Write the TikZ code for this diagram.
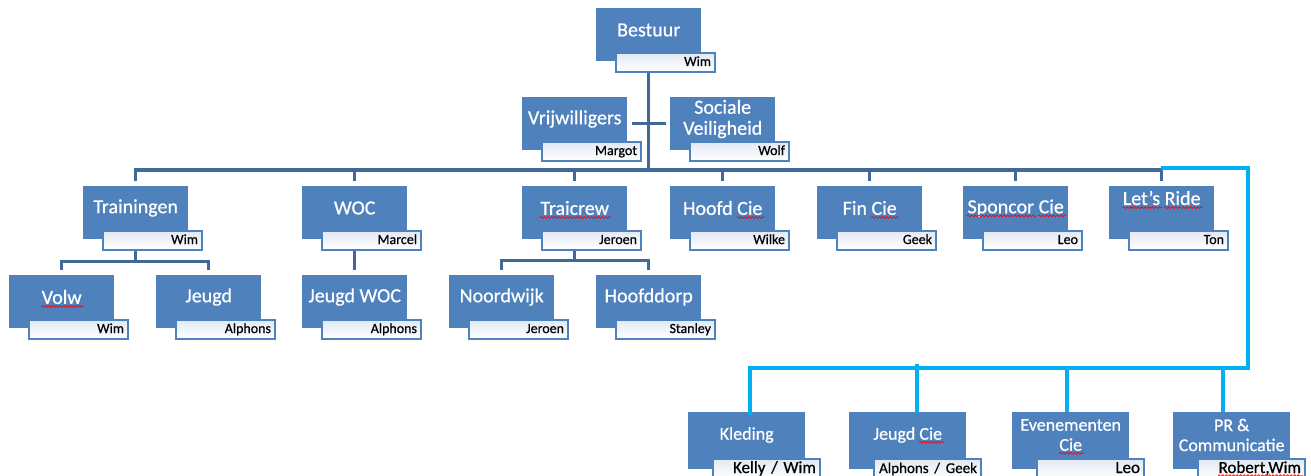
\documentclass[tikz,border=0pt]{standalone}
\usepackage{fontspec}
\setmainfont{Carlito}
\newfontfamily\boxfont{Carlito}[FakeBold=0.6]
\usetikzlibrary{calc,decorations.pathmorphing}
\definecolor{boxblue}{RGB}{79,129,189}
\definecolor{linedark}{RGB}{64,104,153}
\definecolor{cyanline}{RGB}{0,176,240}
\definecolor{subtop}{RGB}{226,233,243}
\newcommand\sqw[1]{\tikz[baseline=(sqwtxt.base),x=1pt,y=1pt]{\node[inner sep=0pt,outer sep=0pt,anchor=base] (sqwtxt) {#1};\draw[overlay,red,line width=0.7pt,decorate,decoration={snake,amplitude=0.9pt,segment length=3.6pt}] ($(sqwtxt.base west)+(-0.5pt,-2.6pt)$) -- ($(sqwtxt.base east)+(2pt,-2.6pt)$);}}
\tikzset{
  bx/.style={fill=boxblue, draw=none, minimum width=105, minimum height=53, inner sep=0, anchor=north west},
  bxb/.style={bx, minimum width=117, minimum height=57},
  mt/.style={text=white, inner sep=0, align=center, font=\boxfont\fontsize{20}{21}\selectfont},
  mtb/.style={mt, font=\boxfont\fontsize{18}{20}\selectfont},
  sb/.style={draw=boxblue, line width=2, top color=subtop, bottom color=white, anchor=north west,
    text width=91, inner xsep=4, inner ysep=0, minimum height=19, align=right,
    text height=10, text depth=3, font=\boxfont\fontsize{14}{16}\selectfont},
  sbb/.style={sb, text width=99, minimum height=20, text height=12, text depth=4, font=\boxfont\fontsize{17}{19}\selectfont},
  conn/.style={draw=linedark, line width=3.5},
  cy/.style={draw=cyanline, line width=4.5},
}
\newcommand\obox[6]{%
  \node[bx] (#1) at (#2,#3) {};
  \node[mt] (#1-t) at ($(#1.north)+(0,#6)$) {#4};
  \node[sb] (#1-s) at ($(#1.north west)+(19,44)$) {#5};
}
\newcommand\oboxb[6]{%
  \node[bxb] (#1) at (#2,#3) {};
  \node[mtb] (#1-t) at ($(#1.north)+(0,#6)$) {#4};
  \node[sbb] (#1-s) at ($(#1.north west)+(24,46)$) {#5};
}
\begin{document}
\begin{tikzpicture}[x=1pt,y=-1pt]
\useasboundingbox (0,0) rectangle (1311,476);
\clip (0,0) rectangle (1311,476);
\fill[white] (0,0) rectangle (1311,476);

% boxes
\obox{best}{596}{8}{Bestuur}{Wim}{22}
\obox{vrij}{522}{97}{Vrijwilligers}{Margot}{22}
\obox{soc}{670}{97}{Sociale\\Veiligheid}{Wolf}{22}
\obox{trn}{83}{186}{Trainingen}{Wim}{22}
\obox{woc}{302}{186}{WOC}{Marcel}{22}
\obox{trc}{522}{186}{\sqw{Traicrew}}{Jeroen}{22}
\obox{hfd}{670}{186}{Hoofd \sqw{Cie}}{Wilke}{22}
\obox{fin}{817}{186}{Fin \sqw{Cie}}{Geek}{22}
\obox{spc}{963}{186}{\sqw{Sponcor} \sqw{Cie}}{Leo}{22}
\obox{lr}{1109}{186}{\sqw{Let’s} \sqw{Ride}}{Ton}{12}
\obox{volw}{9}{275}{\sqw{Volw}}{Wim}{22}
\obox{jgd}{156}{275}{Jeugd}{Alphons}{22}
\obox{jwoc}{302}{275}{Jeugd WOC}{Alphons}{22}
\obox{nw}{449}{275}{Noordwijk}{Jeroen}{22}
\obox{hd}{596}{275}{Hoofddorp}{Stanley}{22}
\oboxb{kl}{688}{412}{Kleding}{Kelly / Wim}{23}
\oboxb{jc}{849}{412}{Jeugd \sqw{Cie}}{\fontsize{15}{17}\selectfont Alphons / Geek}{23}
\oboxb{ev}{1012}{412}{Evenementen\\\sqw{Cie}}{Leo}{23}
\oboxb{pr}{1173}{412}{PR \&\\Communicatie}{\sqw{Robert,Wim}}{23}

% connectors top
\coordinate (bus) at ($(trn.north)+(0,-16)$);
\draw[conn] (best.south |- best-s.south) -- (best.south |- bus);
\draw[conn] ($(vrij.east)+(5,0)$) -- ($(soc.west)+(-4,0)$);
\draw[conn] ($(trn.north)+(0,-5)$) -- (trn.north |- bus) -- (lr.north |- bus) -- ($(lr.north)+(0,-5)$);
\foreach \n in {woc,trc,hfd,fin,spc}{
  \draw[conn] (\n.north |- bus) -- ($(\n.north)+(0,-5)$);
}
% level 3
\coordinate (t3) at ($(trn.south)+(0,22)$);
\draw[conn] (trn.south |- trn-s.south) -- (t3);
\draw[conn] ($(volw.north)+(0,-5)$) -- (volw.north |- t3) -- (jgd.north |- t3) -- ($(jgd.north)+(0,-5)$);
\draw[conn] (woc.south |- woc-s.south) -- ($(jwoc.north)+(0,-5)$);
\coordinate (c3) at ($(trc.south)+(0,21)$);
\draw[conn] (trc.south |- trc-s.south) -- (c3);
\draw[conn] ($(nw.north)+(0,-5)$) -- (nw.north |- c3) -- (hd.north |- c3) -- ($(hd.north)+(0,-5)$);

% cyan connectors
\coordinate (cyStart) at ($(lr.north |- bus)+(-1,-2)$);
\coordinate (cyTop) at (1248,168);
\coordinate (cyBus) at (1248,368);
\coordinate (klc) at ($(kl.north west)+(62,3)$);
\coordinate (jcc) at ($(jc.north west)+(68,1)$);
\coordinate (evc) at ($(ev.north west)+(55,0)$);
\coordinate (prc) at ($(pr.north west)+(50,0)$);
\draw[cy] (cyStart) -- (cyTop) -- (cyBus) -- (klc |- cyBus) -- (klc);
\draw[cy] ($(jcc |- cyBus)+(0,-4)$) -- (jcc);
\draw[cy] (evc |- cyBus) -- (evc);
\draw[cy] (prc |- cyBus) -- (prc);
\end{tikzpicture}
\end{document}
